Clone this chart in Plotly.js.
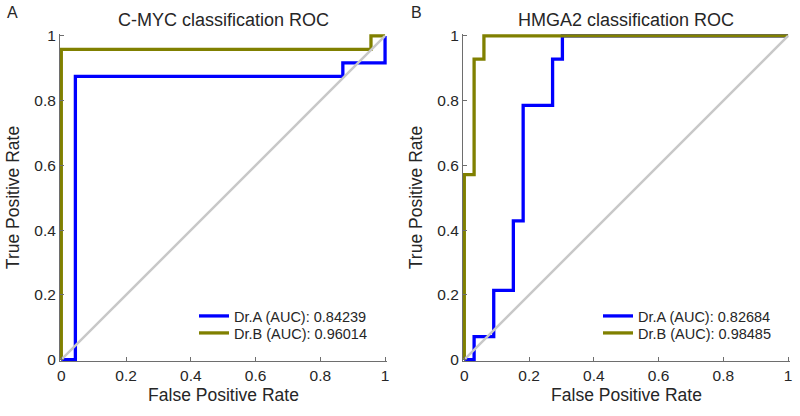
<!DOCTYPE html>
<html>
<head>
<meta charset="utf-8">
<script src="https://cdn.plot.ly/plotly-3.0.1.min.js"></script>
<style>html,body{margin:0;padding:0;background:#fff;}#chart{width:800px;height:416px;}</style>
</head>
<body>
<div id="chart"></div>
<script>
// Panel A: C-MYC
const fprA_L = [0, 0.0435, 0.0435, 0.8696, 0.8696, 1, 1];
const tprA_L = [0, 0, 0.875, 0.875, 0.9167, 0.9167, 1];
const fprB_L = [0, 0, 0.9565, 0.9565, 1];
const tprB_L = [0, 0.9583, 0.9583, 1, 1];
// Panel B: HMGA2
const fprA_R = [0, 0.0303, 0.0303, 0.0909, 0.0909, 0.1515, 0.1515, 0.1818, 0.1818, 0.2727, 0.2727, 0.3030, 0.3030, 1];
const tprA_R = [0, 0, 0.0714, 0.0714, 0.2143, 0.2143, 0.4286, 0.4286, 0.7857, 0.7857, 0.9286, 0.9286, 1, 1];
const fprB_R = [0, 0, 0.0303, 0.0303, 0.0606, 0.0606, 1];
const tprB_R = [0, 0.5714, 0.5714, 0.9286, 0.9286, 1, 1];
const diag = [0, 1];

const namesL = ['Dr.A (AUC): 0.84239', 'Dr.B (AUC): 0.96014'];
const namesR = ['Dr.A (AUC): 0.82684', 'Dr.B (AUC): 0.98485'];
const titles = ['C-MYC classification ROC', 'HMGA2 classification ROC'];
const panelLabels = ['A', 'B'];
const tickVals = [0, 0.2, 0.4, 0.6, 0.8, 1];
const tickText = ['0', '0.2', '0.4', '0.6', '0.8', '1'];

const BLUE = '#0000ff', OLIVE = '#808000', GRAY = '#c8c8c8';
const FONT = 'Liberation Sans, Arial, sans-serif';
const TXT = '#262626', AX = '#6e6e6e';

const traces = [
  {x: fprA_L, y: tprA_L, name: namesL[0], mode: 'lines', line: {color: BLUE, width: 3.3}, xaxis: 'x', yaxis: 'y', legend: 'legend'},
  {x: fprB_L, y: tprB_L, name: namesL[1], mode: 'lines', line: {color: OLIVE, width: 3.3}, xaxis: 'x', yaxis: 'y', legend: 'legend2'},
  {x: diag, y: diag, mode: 'lines', line: {color: GRAY, width: 2.5}, showlegend: false, xaxis: 'x', yaxis: 'y'},
  {x: fprA_R, y: tprA_R, name: namesR[0], mode: 'lines', line: {color: BLUE, width: 3.3}, xaxis: 'x2', yaxis: 'y2', legend: 'legend3'},
  {x: fprB_R, y: tprB_R, name: namesR[1], mode: 'lines', line: {color: OLIVE, width: 3.3}, xaxis: 'x2', yaxis: 'y2', legend: 'legend4'},
  {x: diag, y: diag, mode: 'lines', line: {color: GRAY, width: 2.5}, showlegend: false, xaxis: 'x2', yaxis: 'y2'}
];

function xax(domain, anchor) {
  return {
    domain: domain, anchor: anchor, range: [-0.004, 1.006],
    showgrid: false, zeroline: false, showline: true, linecolor: AX, linewidth: 1,
    ticks: 'inside', ticklen: 4, tickcolor: AX,
    tickvals: tickVals, ticktext: tickText,
    tickfont: {family: FONT, size: 15.5, color: TXT},
    title: {text: 'False Positive Rate', font: {family: FONT, size: 17.5, color: TXT}, standoff: 6}
  };
}
function yax(domain, anchor) {
  return {
    domain: domain, anchor: anchor, range: [-0.004, 1.006],
    showgrid: false, zeroline: false, showline: true, linecolor: AX, linewidth: 1,
    ticks: 'inside', ticklen: 4, tickcolor: AX,
    tickvals: tickVals, ticktext: tickText,
    tickfont: {family: FONT, size: 15.5, color: TXT},
    title: {text: 'True Positive Rate', font: {family: FONT, size: 17.5, color: TXT}, standoff: 10}
  };
}

function leg(xpx, ypx) {
  return {x: xpx/800, xanchor: 'left', y: 1 - ypx/416, yanchor: 'middle', bgcolor: 'rgba(0,0,0,0)', borderwidth: 0,
          font: {family: FONT, size: 14.5, color: TXT}, tracegroupgap: 0};
}

const yDom = [55/416, 382/416];
const layout = {
  width: 800, height: 416,
  margin: {l: 0, r: 0, t: 0, b: 0},
  paper_bgcolor: '#ffffff', plot_bgcolor: '#ffffff',
  font: {family: FONT, color: TXT},
  showlegend: true,
  xaxis: xax([60/800, 387/800], 'y'),
  yaxis: yax(yDom, 'x'),
  xaxis2: xax([463/800, 790/800], 'y2'),
  yaxis2: yax(yDom, 'x2'),
  legend: leg(194, 316),
  legend2: leg(194, 333),
  legend3: leg(598, 316),
  legend4: leg(598, 333),
  annotations: [
    {text: titles[0], xref: 'paper', yref: 'paper', x: 223/800, y: 1 - 20/416, xanchor: 'center', yanchor: 'middle', showarrow: false, font: {family: FONT, size: 18, color: TXT}},
    {text: titles[1], xref: 'paper', yref: 'paper', x: 626/800, y: 1 - 20/416, xanchor: 'center', yanchor: 'middle', showarrow: false, font: {family: FONT, size: 18, color: TXT}},
    {text: panelLabels[0], xref: 'paper', yref: 'paper', x: 12/800, y: 1 - 12/416, xanchor: 'center', yanchor: 'middle', showarrow: false, font: {family: FONT, size: 16, color: TXT}},
    {text: panelLabels[1], xref: 'paper', yref: 'paper', x: 416/800, y: 1 - 12/416, xanchor: 'center', yanchor: 'middle', showarrow: false, font: {family: FONT, size: 16, color: TXT}}
  ]
};

Plotly.newPlot('chart', traces, layout, {staticPlot: true, displayModeBar: false});
</script>
</body>
</html>
